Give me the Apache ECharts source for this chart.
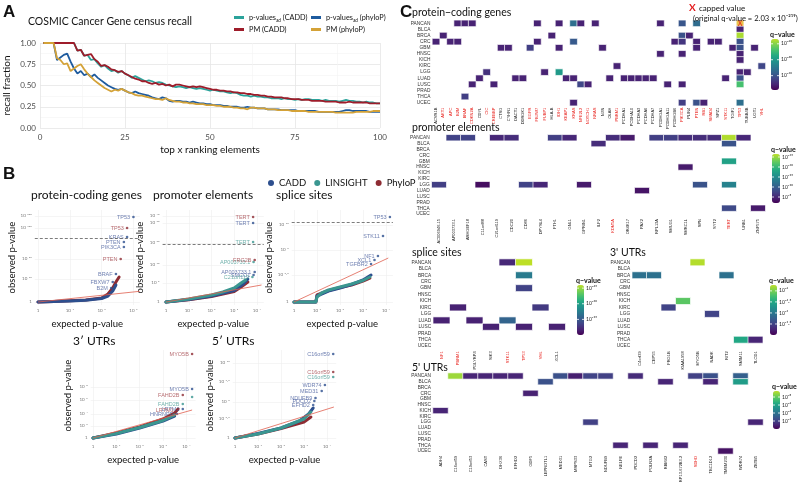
<!DOCTYPE html>
<html><head><meta charset="utf-8">
<script src="https://cdn.jsdelivr.net/npm/echarts@6/dist/echarts.min.js"></script>
<style>html,body{margin:0;padding:0;background:#fff}#c{width:799px;height:489px}</style>
</head><body><div id="c"></div>
<script>
// ================= PANEL A : recall curves (top x = 1..100) =================
const topX = Array.from({length:100}, (_, i) => i + 1);
const recallPvCADD = [1,1,1,1,1,1,1,1,1,1,
 .91,.92,.85,.86,.80,.81,.76,.72,.74,.70,
 .67,.68,.65,.67,.64,.62,.59,.61,.59,.57,
 .55,.56,.55,.53,.54,.53,.51,.50,.49,.48,
 .49,.48,.47,.48,.47,.46,.47,.46,.45,.44,
 .45,.44,.43,.43,.42,.41,.42,.41,.39,.38,
 .38,.37,.38,.37,.37,.36,.36,.35,.35,.35,
 .34,.35,.34,.34,.33,.34,.33,.34,.34,.33,
 .33,.33,.32,.33,.32,.32,.32,.31,.32,.33,
 .32,.32,.31,.31,.30,.31,.30,.30,.29,.29];
const recallPvPhyloP = [1,1,1,1,.80,.83,.86,.875,.78,.70,
 .64,.67,.62,.64,.60,.63,.59,.56,.53,.50,
 .48,.46,.45,.46,.44,.42,.41,.43,.41,.40,
 .39,.38,.36,.35,.34,.36,.35,.32,.31,.32,
 .32,.31,.31,.30,.31,.30,.29,.29,.28,.28,
 .27,.27,.27,.26,.26,.25,.25,.25,.24,.24,
 .25,.24,.24,.23,.23,.23,.22,.22,.22,.22,
 .21,.21,.21,.21,.21,.20,.20,.20,.20,.20,
 .20,.19,.19,.19,.19,.19,.19,.19,.20,.21,
 .21,.20,.20,.20,.20,.20,.19,.19,.19,.19];
const recallPmCADD = [1,1,1,1,1,1,1,1,1,1,
 .91,.92,.85,.86,.87,.81,.78,.73,.74,.72,
 .69,.68,.66,.67,.64,.62,.60,.58,.57,.55,
 .55,.53,.52,.53,.51,.52,.50,.51,.49,.51,
 .51,.50,.49,.48,.49,.48,.49,.48,.47,.46,
 .45,.45,.44,.44,.43,.43,.42,.42,.41,.41,
 .40,.40,.39,.39,.38,.38,.37,.37,.36,.36,
 .36,.35,.35,.34,.34,.34,.33,.33,.33,.32,
 .32,.32,.32,.31,.31,.31,.31,.30,.30,.30,
 .31,.30,.30,.30,.30,.30,.29,.29,.29,.29];
const recallPmPhyloP = [1,1,1,1,.82,.80,.75,.76,.67,.70,
 .73,.75,.69,.64,.60,.56,.53,.50,.47,.45,
 .43,.45,.44,.46,.44,.42,.41,.39,.38,.38,
 .37,.36,.35,.34,.34,.33,.35,.33,.32,.31,
 .31,.30,.30,.29,.29,.28,.28,.28,.27,.27,
 .27,.26,.26,.25,.25,.25,.24,.24,.23,.23,
 .22,.24,.24,.23,.23,.23,.22,.22,.22,.21,
 .21,.21,.21,.20,.20,.20,.20,.20,.19,.19,
 .19,.19,.19,.19,.19,.19,.18,.18,.18,.18,
 .18,.18,.19,.19,.19,.19,.19,.20,.20,.20];

// ================= PANEL B : QQ plots ([expected, observed] on the plot scales) =================
const qqXTickLabels = ['1','10⁻¹','10⁻²','10⁻³','10⁻⁴'];
// protein-coding genes
const pcCADD = [[0,0],[0.5,0.4],[1,1],[1.5,1.8],[2,3.5],[2.2,6],[2.35,11],[2.45,17]];
const pcPhyloP = [[0,0],[0.5,0.5],[1,1.2],[1.5,2],[2,4],[2.2,8],[2.35,14],[2.45,20],[2.55,25]];
const pcLabCADD = [[3.0,85,'TP53'],[2.8,65,'KRAS'],[2.7,60,'PTEN'],[2.7,55,'PIK3CA'],[2.45,28,'BRAF'],[2.35,20,'FBXW7'],[2.3,14,'B2M']];
const pcLabPhyloP = [[2.8,74,'TP53'],[2.6,43,'PTEN']];
const pcDiag = [[0,0],[3.2,10.7]];
const pcSig = 64;
const pcYTicks = [0,23,43,74,86];
const pcYTickLabels = ['1','10⁻¹⁰','10⁻³⁰','10⁻¹⁰⁰','10⁻²⁰⁰'];
// promoter elements
const prCADD = [[0,0],[1,2.5],[2,6],[3,11.5],[3.4,18],[3.6,23]];
const prLINSIGHT = [[0,0],[1,3],[2,7],[2.5,10],[3,14],[3.3,19],[3.5,22]];
const prPhyloP = [[0,0],[1,2.3],[2,5.5],[3,10.5],[3.3,15],[3.6,20]];
const prLabCADD = [[3.83,79,'TERT'],[3.9,30,'AP003733.1'],[3.85,27,'SMCO1']];
const prLabLINSIGHT = [[3.83,60,'TERT'],[3.85,40,'AP003733.1'],[3.8,25,'C21orf119']];
const prLabPhyloP = [[3.83,85,'TERT'],[3.9,42,'FRG2B']];
const prDiag = [[0,0],[4.2,17]];
const prSig = 58;
const prYTicks = [0,19,37,59,79,86];
const prYTickLabels = ['1','10⁻⁵','10⁻¹⁰','10⁻²⁰','10⁻³⁰','10⁻⁴⁰'];
// splice sites
const spCADD = [[0,0],[0.95,0],[1.0,6],[1.5,11],[2,14],[2.5,17.5],[3,22],[3.35,27]];
const spLINSIGHT = [[0,0],[0.95,0],[1.0,5],[1.2,9],[1.5,12],[2,15],[2.5,18],[3,21.5],[3.3,25]];
const spPhyloP = [[0,0],[0.95,0],[1.0,7],[1.5,11.5],[2,14.5],[2.5,17],[3,21],[3.3,24]];
const spLabCADD = [[4.17,85,'TP53'],[3.87,66,'STK11'],[3.65,46,'NF1'],[3.5,42,'XCL1'],[3.35,38,'TGFBR2']];
const spDiag = [[0,0],[4.1,44]];
const spSig = 80;
const spYTicks = [0,27,52,77];
const spYTickLabels = ['1','10⁻²·⁵','10⁻⁵','10⁻¹⁰'];
// 3' UTRs
const u3CADD = [[0,0],[1,4],[2,10],[3,17],[3.5,22]];
const u3LINSIGHT = [[0,0],[1,4.5],[2,10.5],[3,17.5],[3.5,23]];
const u3PhyloP = [[0,0],[1,5],[2,11],[3,19],[3.5,25],[3.65,29]];
const u3LabCADD = [[4.25,49,'MYO5B'],[3.85,29,'LRTM1'],[3.6,24,'HNRNPD']];
const u3LabLINSIGHT = [[4.25,41,''],[3.85,34,'FAHD2B']];
const u3LabPhyloP = [[4.25,84,'MYO5B'],[3.85,43,'FAHD2B'],[3.6,28,'LRTM1']];
const u3Diag = [[0,0],[4.25,28]];
const u3YTicks = [0,12,24,38,51];
const u3YTickLabels = ['1','10⁻²','10⁻⁴','10⁻⁶','10⁻⁸'];
// 5' UTRs
const u5CADD = [[0,0],[1,4.5],[2,10],[2.8,17],[3.2,24],[3.4,30]];
const u5LINSIGHT = [[0,0],[1,4],[2,10],[3,19],[3.3,26]];
const u5PhyloP = [[0,0],[1,4],[2,9.5],[3,16],[3.3,21]];
const u5LabCADD = [[4.27,84,'C16orf59'],[3.91,53,'WDR74'],[3.77,47,'MED31'],[3.5,40,'NDUFB9'],[3.45,37,'PDCD2'],[3.4,33,'EFHD2']];
const u5LabLINSIGHT = [[4.27,61,'C16orf59']];
const u5LabPhyloP = [[4.27,66,'C16orf59']];
const u5Diag = [[0,0],[4.3,31]];
const u5YTicks = [0,19,36,56,75];
const u5YTickLabels = ['1','10⁻²·⁵','10⁻⁵','10⁻⁷·⁵','10⁻¹⁰'];

// ================= PANEL C : heatmaps (-log10 q-value) =================
const cancers = ['PANCAN','BLCA','BRCA','CRC','GBM','HNSC','KICH','KIRC','LGG','LUAD','LUSC','PRAD','THCA','UCEC'];
const cosmicGenes = ['AKT1','APC','B2M','BRAF','CDKN2A','CIC','CREBBP','EGFR','FBXW7','FUBP1','IDH1','KEAP1','KRAS','NFE2L2','NOTCH1','NRAS','PBRM1','PIK3CA','PTEN','RB1','SMAD4','STK11','TP53','VHL','KDM5A','TERT','NF1','SDHD'];
const pcGenes = ['ACVR1B','AKT1','APC','B2M','BRAF','CDKN2A','CDYL','CIC','CREBBP','CTSG','CYHR1','DACT1','DDRGK1','EGFR','FBXW7','FUBP1','HLA-B','IDH1','KEAP1','KRAS','NFE2L2','NOTCH1','NRAS','NXN','OLAH','PBRM1','PCDHA1','PCDHA10','PCDHA3','PCDHA6','PCDHA7','PCDHGA1','PCDHGA11','PCDHGB6','PIK3CA','PLIN4','PTEN','RB1','SMAD4','SPZ1','STK11','TGIF1','TP53','TUBB4B','UGT1','VHL'];
const pcCells = [
 ['B2M','PANCAN',9],['BRAF','PANCAN',9],['CDKN2A','PANCAN',9],['FBXW7','PANCAN',9],['IDH1','PANCAN',9],['KRAS','PANCAN',28],['NFE2L2','PANCAN',9],['NRAS','PANCAN',9],['PCDHGA1','PANCAN',9],['PIK3CA','PANCAN',21],['PTEN','PANCAN',27],['TP53','PANCAN',66],
 ['TP53','BLCA',9],
 ['AKT1','BRCA',9],['HLA-B','BRCA',9],['PIK3CA','BRCA',20],['PLIN4','BRCA',9],['TP53','BRCA',64],
 ['ACVR1B','CRC',9],['APC','CRC',9],['B2M','CRC',9],['FBXW7','CRC',9],['KRAS','CRC',22],['PCDHGB6','CRC',9],['PIK3CA','CRC',13],['PTEN','CRC',9],['SMAD4','CRC',9],['SPZ1','CRC',9],['TP53','CRC',20],
 ['CTSG','GBM',9],['CYHR1','GBM',9],['EGFR','GBM',15],['IDH1','GBM',9],['NXN','GBM',9],['PTEN','GBM',9],['TGIF1','GBM',9],['TP53','GBM',20],['UGT1','GBM',9],
 ['PCDHGA1','HNSC',9],['PIK3CA','HNSC',9],['TP53','HNSC',9],
 ['TP53','KICH',9],
 ['PBRM1','KIRC',9],['VHL','KIRC',17],
 ['CIC','LGG',12],['FUBP1','LGG',9],['IDH1','LGG',40],['TP53','LGG',9],['TUBB4B','LGG',9],
 ['CDYL','LUAD',9],['DACT1','LUAD',9],['DDRGK1','LUAD',9],['KEAP1','LUAD',9],['KRAS','LUAD',9],['OLAH','LUAD',9],['PCDHA1','LUAD',9],['PCDHA10','LUAD',9],['PCDHA3','LUAD',9],['PCDHA6','LUAD',9],['PCDHA7','LUAD',9],['STK11','LUAD',9],['TP53','LUAD',20],
 ['CDKN2A','LUSC',9],['CREBBP','LUSC',9],['NFE2L2','LUSC',17],['NOTCH1','LUSC',9],['PCDHGA11','LUSC',9],['PIK3CA','LUSC',9],['TP53','LUSC',52],
 ['BRAF','THCA',15],
 ['KRAS','UCEC',9],['PIK3CA','UCEC',15],['PTEN','UCEC',20],['RB1','UCEC',9],['TP53','UCEC',28]
];
const pcCapped = [['TP53','PANCAN']];
const prGenes = ['AC006946.15','AP003733.1','ARHGEF18','C11orf88','C21orf119','CDC20','CD86','DPYSL4','FTH1','GNL1','GPRIN1','ILF2','KDM5A','OR4K17','PAX2','RPL13A','SMUG1','SMRC1L','SPN','SYT2','TERT','URB1','ZNF575'];
const prCells = [
 ['AP003733.1','PANCAN',7.4],['ARHGEF18','PANCAN',7.4],['C21orf119','PANCAN',5],['CDC20','PANCAN',5.5],['FTH1','PANCAN',7],['GNL1','PANCAN',5],['KDM5A','PANCAN',5.5],['OR4K17','PANCAN',4],['RPL13A','PANCAN',7],['SMUG1','PANCAN',7],['SMRC1L','PANCAN',5.5],['SPN','PANCAN',5.5],['SYT2','PANCAN',5.5],['TERT','PANCAN',26],['URB1','PANCAN',5],
 ['ILF2','BLCA',5.5],['TERT','BLCA',9],
 ['TERT','GBM',17.5],
 ['SMRC1L','HNSC',4],
 ['AC006946.15','LGG',7],['C11orf88','LGG',3],['CD86','LGG',7.4],['DPYSL4','LGG',5],['GPRIN1','LGG',4],['SPN','LGG',9],['TERT','LGG',14],
 ['PAX2','LUAD',3.5],
 ['TERT','THCA',8],['ZNF575','THCA',4]
];
const spGenes = ['NF1','PBRM1','PGLYRP4','SIK3','STK11','TP53','VHL','XCL1'];
const spCells = [
 ['STK11','PANCAN',6],['TP53','PANCAN',48],
 ['TP53','BRCA',22],
 ['TP53','GBM',10.5],
 ['PBRM1','KIRC',5],['VHL','KIRC',9],
 ['NF1','LUAD',5],['PGLYRP4','LUAD',5],['STK11','LUAD',17],
 ['SIK3','LUSC',5],['TP53','LUSC',5],['XCL1','LUSC',5]
];
const u3Genes = ['C4orf39','CEP55','FRG1B','KIAA1958','MYO5B','NADK','RIT2','SMIM11','TLCD1'];
const u3Cells = [
 ['MYO5B','PANCAN',6.7],
 ['C4orf39','BRCA',2.8],['CEP55','BRCA',2.8],['RIT2','BRCA',2.8],
 ['KIAA1958','KICH',5.6],
 ['FRG1B','KIRC',1.5],
 ['NADK','LGG',1.5],
 ['SMIM11','THCA',4.5],['TLCD1','THCA',0.8]
];
const u5Genes = ['ADH4','C16orf59','C19orf53','CAST','DHX36','EFHD2','GDF5','LEPROTL1','MED31','MRPS33','MTG2','NDUFB9','NELFE','PDCD2','POLR2A','RBM42','RP13-672B3.2','SDHD','TBC1D12','TMEM230','WDR74','ZBTB5'];
const u5Cells = [
 ['C16orf59','PANCAN',9],['C19orf53','PANCAN',1.1],['CAST','PANCAN',1.1],['DHX36','PANCAN',1.1],['EFHD2','PANCAN',1.1],['MED31','PANCAN',2.6],['MRPS33','PANCAN',0.9],['MTG2','PANCAN',2.1],['NDUFB9','PANCAN',2.0],['PDCD2','PANCAN',1.3],['SDHD','PANCAN',2.0],['TBC1D12','PANCAN',2.6],['WDR74','PANCAN',3.2],
 ['LEPROTL1','BLCA',2.6],['RBM42','BLCA',1.1],['TBC1D12','BLCA',1.1],['WDR74','BLCA',5.8],
 ['GDF5','CRC',1.0],
 ['ADH4','KICH',1.1],
 ['MTG2','LGG',2.0],['ZBTB5','LGG',1.1],
 ['NELFE','THCA',1.1],['POLR2A','THCA',1.1],['RP13-672B3.2','THCA',1.1],
 ['TMEM230','UCEC',0.5]
];
// colour-bar tick labels (value, text)
const pcBarTicks = [[20,'10⁻²⁰'],[40,'10⁻⁴⁰'],[60,'10⁻⁶⁰']];
const prBarTicks = [[5,'10⁻⁵'],[10,'10⁻¹⁰'],[15,'10⁻¹⁵'],[20,'10⁻²⁰'],[25,'10⁻²⁵']];
const spBarTicks = [[15,'10⁻¹⁵'],[30,'10⁻³⁰'],[45,'10⁻⁴⁵']];
const u3BarTicks = [[1.5,'10⁻¹·⁵'],[3,'10⁻³'],[4.5,'10⁻⁴·⁵'],[6,'10⁻⁶']];
const u5BarTicks = [[2,'10⁻²'],[4,'10⁻⁴'],[6,'10⁻⁶'],[8,'10⁻⁸']];

// ================= build =================
const FONT = 'Lato';
const SMALL = 'Liberation Sans';
const viridis = ['#440154','#482475','#414487','#355f8d','#2a788e','#21918c','#22a884','#44bf70','#7ad151','#bddf26'];
const COL = {CADD:'#2d4f8e', LINSIGHT:'#3a9690', PhyloP:'#8e2c33'};
const LCOL = {CADD:'#4a5f9e', LINSIGHT:'#4e9d97', PhyloP:'#a5474d'};

const grids = [], xAxes = [], yAxes = [], series = [], visualMaps = [], graphics = [];
// text at (x, vertical centre y)
function T(text, x, y, size, extra) {
  graphics.push({type:'text', x, y, z:100, style:Object.assign({text, fontFamily:FONT, fontSize:size, fontWeight:'normal', fill:'#111', verticalAlign:'middle', align:'left'}, extra||{})});
}

// ---- Panel A
grids.push({left:40, top:43, width:340, height:85});
xAxes.push({type:'value', gridIndex:0, min:0, max:100, interval:25,
  name:'top x ranking elements', nameLocation:'middle', nameGap:17, nameTextStyle:{fontFamily:FONT, fontSize:10, color:'#111'},
  axisLine:{show:false}, axisTick:{show:false}, axisLabel:{fontFamily:FONT, fontSize:8, color:'#4d4d4d', margin:5},
  splitLine:{lineStyle:{color:'#e6e6e6', width:0.8}}, minorTick:{show:false, splitNumber:2}, minorSplitLine:{show:true, lineStyle:{color:'#f3f3f3', width:0.6}}});
yAxes.push({type:'value', gridIndex:0, min:0, max:1, interval:0.25,
  name:'recall fraction', nameLocation:'middle', nameGap:28, nameTextStyle:{fontFamily:FONT, fontSize:10, color:'#111'},
  axisLine:{show:false}, axisTick:{show:false}, axisLabel:{fontFamily:FONT, fontSize:8, color:'#4d4d4d', margin:4, formatter:v=>v.toFixed(2)},
  splitLine:{lineStyle:{color:'#e6e6e6', width:0.8}}, minorTick:{show:false, splitNumber:2}, minorSplitLine:{show:true, lineStyle:{color:'#f3f3f3', width:0.6}}});
const aSeries = [
  ['p-values_ad (CADD)', recallPvCADD, '#2ba39b'],
  ['p-values_ad (phyloP)', recallPvPhyloP, '#1e5b9e'],
  ['PM (CADD)', recallPmCADD, '#9e1c2a'],
  ['PM (phyloP)', recallPmPhyloP, '#d4a237']
];
aSeries.forEach(([name, vals, color]) => {
  series.push({type:'line', name, xAxisIndex:0, yAxisIndex:0, data: topX.map((x,i)=>[x, vals[i]]),
    showSymbol:false, clip:false, color, lineStyle:{width:1.8, color}, z:3});
});
const legends = [];
const legPos = [[234,14],[311,14],[234,26],[311,26]];
aSeries.forEach(([name], i) => {
  legends.push({data:[name], left:legPos[i][0], top:legPos[i][1], padding:0, icon:'rect', itemWidth:10, itemHeight:3, itemGap:3,
    formatter: n => n.replace('_ad', '{s|ad}'),
    textStyle:{fontFamily:FONT, fontSize:7.3, color:'#111', rich:{s:{fontSize:4.8, fontFamily:FONT, padding:[5,0,0,0]}}}});
});
T('A', 3, 12, 17, {fontWeight:'bold', fontFamily:'Liberation Sans'});
T('COSMIC Cancer Gene census recall', 28, 22, 10.5);

// ---- Panel B
T('B', 3, 174, 17, {fontWeight:'bold', fontFamily:'Liberation Sans'});
legends.push({data:['CADD','LINSIGHT','PhyloP'], left:268, top:178, padding:0, icon:'circle', itemWidth:6, itemHeight:6, itemGap:8,
  textStyle:{fontFamily:FONT, fontSize:9.5, color:'#111'}});
const qqDefs = [
  {title:'protein-coding genes', tl:31, tt:195, left:34.8, width:105, xmin:-0.1, xmax:3.2, xticks:[0,1,2,3], base:302, ymin:-3, ymax:92,
   yt:pcYTicks, yl:pcYTickLabels, lines:{CADD:pcCADD, PhyloP:pcPhyloP}, labs:{CADD:pcLabCADD, PhyloP:pcLabPhyloP}, diag:pcDiag, sig:pcSig},
  {title:'promoter elements', tl:153, tt:195, left:162.6, width:101.2, xmin:-0.15, xmax:4.3, xticks:[0,1,2,3,4], base:302, ymin:-3, ymax:92,
   yt:prYTicks, yl:prYTickLabels, lines:{CADD:prCADD, PhyloP:prPhyloP, LINSIGHT:prLINSIGHT}, labs:{CADD:prLabCADD, LINSIGHT:prLabLINSIGHT, PhyloP:prLabPhyloP}, diag:prDiag, sig:prSig},
  {title:'splice sites', tl:276, tt:195, left:291.7, width:101.2, xmin:-0.1, xmax:4.3, xticks:[0,1,2,3,4], base:302, ymin:-3, ymax:92,
   yt:spYTicks, yl:spYTickLabels, lines:{CADD:spCADD, PhyloP:spPhyloP, LINSIGHT:spLINSIGHT}, labs:{CADD:spLabCADD}, diag:spDiag, sig:spSig},
  {title:'3′ UTRs', tl:73, tt:341, left:90.7, width:104.9, xmin:-0.1, xmax:4.4, xticks:[0,1,2,3,4], base:438, ymin:-3, ymax:88,
   yt:u3YTicks, yl:u3YTickLabels, lines:{CADD:u3CADD, LINSIGHT:u3LINSIGHT, PhyloP:u3PhyloP}, labs:{CADD:u3LabCADD, LINSIGHT:u3LabLINSIGHT, PhyloP:u3LabPhyloP}, diag:u3Diag, sig:null},
  {title:'5′ UTRs', tl:212, tt:341, left:232.7, width:103.5, xmin:-0.1, xmax:4.4, xticks:[0,1,2,3,4], base:438, ymin:-3, ymax:88,
   yt:u5YTicks, yl:u5YTickLabels, lines:{CADD:u5CADD, PhyloP:u5PhyloP, LINSIGHT:u5LINSIGHT}, labs:{CADD:u5LabCADD, LINSIGHT:u5LabLINSIGHT, PhyloP:u5LabPhyloP}, diag:u5Diag, sig:null}
];
qqDefs.forEach(d => {
  const gi = grids.length;
  const h = d.ymax - d.ymin;
  grids.push({left:d.left, top:d.base - d.ymax, width:d.width, height:h});
  T(d.title, d.tl, d.tt, 12);
  xAxes.push({type:'value', gridIndex:gi, min:d.xmin, max:d.xmax,
    name:'expected p-value', nameLocation:'middle', nameGap:14, nameTextStyle:{fontFamily:FONT, fontSize:9.5, color:'#111'},
    axisLine:{show:false}, axisTick:{show:false, customValues:d.xticks},
    axisLabel:{customValues:d.xticks, fontSize:4.5, color:'#777', margin:3, formatter:v=>qqXTickLabels[Math.round(v)]},
    splitLine:{lineStyle:{color:'#efefef', width:0.6}}});
  yAxes.push({type:'value', gridIndex:gi, min:d.ymin, max:d.ymax,
    name:'observed p-value', nameLocation:'middle', nameGap:18, nameTextStyle:{fontFamily:FONT, fontSize:9.5, color:'#111'},
    axisLine:{show:false}, axisTick:{show:false, customValues:d.yt},
    axisLabel:{customValues:d.yt, fontSize:4.5, color:'#777', margin:3, formatter:v=>{const k=d.yt.indexOf(v); return k>=0?d.yl[k]:'';}},
    splitLine:{lineStyle:{color:'#efefef', width:0.6}}});
  series.push({type:'line', xAxisIndex:gi, yAxisIndex:gi, data:d.diag, showSymbol:false, silent:true,
    lineStyle:{color:'#e0604f', width:0.8}, z:5,
    markLine: d.sig==null ? undefined : {silent:true, symbol:'none', label:{show:false}, lineStyle:{type:[3,2], color:'#444', width:0.7}, data:[{yAxis:d.sig}]}});
  ['PhyloP','CADD','LINSIGHT'].forEach(k => {
    if (d.lines[k]) series.push({type:'line', name:k, xAxisIndex:gi, yAxisIndex:gi, data:d.lines[k], showSymbol:false, color:COL[k],
      lineStyle:{width:3, color:COL[k], cap:'round', join:'round'}, z:3});
  });
  Object.keys(d.labs).forEach(k => {
    series.push({type:'scatter', name:k, xAxisIndex:gi, yAxisIndex:gi, data:d.labs[k], symbolSize:2.6, color:COL[k], z:4,
      label:{show:true, position:'left', distance:2, fontSize:5.5, fontFamily:'Liberation Sans', color:LCOL[k], formatter:p=>p.data[2]}});
  });
});

// ---- Panel C
T('C', 400, 12, 17, {fontWeight:'bold', fontFamily:'Liberation Sans'});
T('X', 689, 8, 10, {fill:'#e41a1c', fontWeight:'bold'});
T('capped value', 699, 8, 8);
T('(original q-value = 2.03 x 10⁻²¹⁹)', 693, 19, 7.6);
const hmDefs = [
  {title:'protein−coding genes', tl:412, tt:13, genes:pcGenes, cells:pcCells, left:432.4, top:20.3, width:333, height:85.4, min:2, max:66, bar:[771,39,8,51], bt:pcBarTicks},
  {title:'promoter elements', tl:412, tt:128, genes:prGenes, cells:prCells, left:431.75, top:134.8, width:333.5, height:82.2, min:2, max:26.5, bar:[772,154,8,49], bt:prBarTicks},
  {title:'splice sites', tl:412, tt:253, genes:spGenes, cells:spCells, left:433.25, top:259.1, width:132, height:90.3, min:0, max:48, bar:[577,285,7,50], bt:spBarTicks},
  {title:"3' UTRs", tl:610, tt:253, genes:u3Genes, cells:u3Cells, left:632.25, top:259.1, width:130.5, height:90.3, min:0, max:6.8, bar:[770,285,7,50], bt:u3BarTicks},
  {title:"5' UTRs", tl:412, tt:368, genes:u5Genes, cells:u5Cells, left:433, top:373.1, width:330, height:80.8, min:0, max:9.5, bar:[773,391,7,38], bt:u5BarTicks}
];
hmDefs.forEach((d, hi) => {
  const gi = grids.length;
  grids.push({left:d.left, top:d.top, width:d.width, height:d.height});
  T(d.title, d.tl, d.tt, 10.5);
  xAxes.push({type:'category', gridIndex:gi, data:d.genes, axisLine:{show:false}, axisTick:{show:false}, splitLine:{show:false},
    axisLabel:{interval:0, rotate:90, fontSize:4, fontFamily:SMALL, margin:2,
      color:v => cosmicGenes.includes(v) ? '#e8211c' : '#1a1a1a'}});
  yAxes.push({type:'category', gridIndex:gi, data:cancers, inverse:true, axisLine:{show:false}, axisTick:{show:false}, splitLine:{show:false},
    axisLabel:{interval:0, fontSize:4.8, fontFamily:SMALL, color:'#333', margin:2}});
  const si = series.length;
  series.push({type:'heatmap', xAxisIndex:gi, yAxisIndex:gi,
    data:d.cells.map(([g,r,v]) => {
      const capped = hi===0 && pcCapped.some(([cg,cr]) => cg===g && cr===r);
      const item = {value:[d.genes.indexOf(g), cancers.indexOf(r), v]};
      if (capped) item.itemStyle = {color:'#e9c24a'};
      return item;
    }),
    itemStyle:{borderColor:'rgba(255,255,255,0.85)', borderWidth:0.8}});
  const [bx, by, bw, bh] = d.bar;
  visualMaps.push({type:'continuous', seriesIndex:si, min:d.min, max:d.max, inRange:{color:viridis}, calculable:false,
    left:bx, top:by, itemWidth:bw, itemHeight:bh, padding:0, text:null, showLabel:false, textStyle:{fontSize:0}});
  T('q−value', bx - 1, by - 4.5, 7, {fontWeight:'bold'});
  d.bt.forEach(([v, txt]) => {
    const y = by + bh - (v - d.min) / (d.max - d.min) * bh;
    T(txt, bx + bw + 2, y, 5, {fill:'#222'});
    graphics.push({type:'line', shape:{x1:bx, y1:y, x2:bx+2, y2:y}, style:{stroke:'#fff', lineWidth:0.8}, z:100});
    graphics.push({type:'line', shape:{x1:bx+bw-2, y1:y, x2:bx+bw, y2:y}, style:{stroke:'#fff', lineWidth:0.8}, z:100});
  });
  if (hi === 0) {
    series.push({type:'scatter', xAxisIndex:gi, yAxisIndex:gi, data:pcCapped.map(([g,r]) => [d.genes.indexOf(g), cancers.indexOf(r)]),
      symbolSize:1, itemStyle:{color:'rgba(0,0,0,0)'}, z:10,
      label:{show:true, position:'inside', formatter:'X', color:'#e41a1c', fontWeight:'bold', fontSize:7, fontFamily:FONT}});
  }
});

const chart = echarts.init(document.getElementById('c'), null, {renderer:'canvas', width:799, height:489});
chart.setOption({
  animation:false,
  backgroundColor:'#fff',
  textStyle:{fontFamily:FONT},
  legend:legends, grid:grids, xAxis:xAxes, yAxis:yAxes, visualMap:visualMaps, series, graphic:graphics
});
</script></body></html>
